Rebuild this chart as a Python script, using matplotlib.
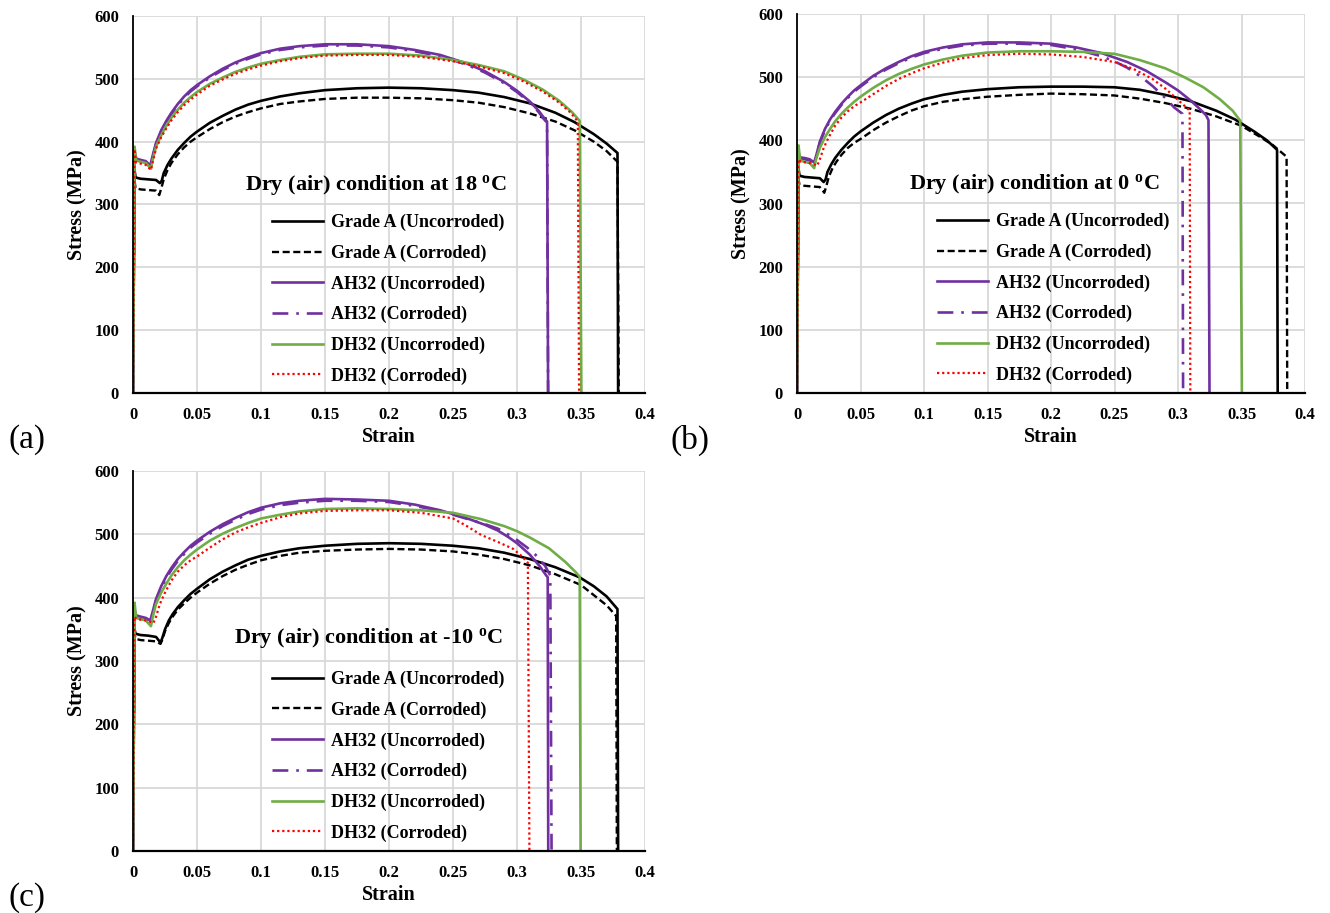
import matplotlib
matplotlib.use('Agg')
import matplotlib.pyplot as plt

plt.rcParams.update({
    'font.family': 'Liberation Serif',
    'font.weight': 'bold',
    'mathtext.fontset': 'custom',
    'mathtext.rm': 'Liberation Serif:bold',
    'mathtext.bf': 'Liberation Serif:bold',
    'mathtext.it': 'Liberation Serif:bold',
})

labels = ["Grade A (Uncorroded)", "Grade A (Corroded)", "AH32 (Uncorroded)",
          "AH32 (Corroded)", "DH32 (Uncorroded)", "DH32 (Corroded)"]
temps = ["18", "0", "-10"]
panel_tags = ["(a)", "(b)", "(c)"]

# ---------------- panel (a): 18 C ----------------
a_gaU_x = [0, 0.0012, 0.002, 0.006, 0.012, 0.018, 0.021, 0.0225, 0.024, 0.027, 0.03, 0.035, 0.04, 0.045,
           0.05, 0.06, 0.07, 0.08, 0.09, 0.1, 0.115, 0.13, 0.15, 0.175, 0.2, 0.225, 0.25, 0.27, 0.29,
           0.31, 0.33, 0.345, 0.36, 0.37, 0.3785, 0.379]
a_gaU_y = [0, 355, 343, 341, 340, 339, 334, 338, 350, 363, 373, 387, 398, 408,
           416, 430, 441, 451, 459, 465, 472, 477, 482, 485, 486, 485, 482, 478, 471,
           461, 446, 431, 412, 397, 382, 0]
a_gaC_x = [0, 0.0012, 0.002, 0.006, 0.012, 0.018, 0.0205, 0.022, 0.024, 0.027, 0.03, 0.035, 0.04, 0.045,
           0.05, 0.06, 0.07, 0.08, 0.09, 0.1, 0.115, 0.13, 0.15, 0.175, 0.2, 0.225, 0.25, 0.27, 0.29,
           0.31, 0.33, 0.345, 0.36, 0.37, 0.3785, 0.3795]
a_gaC_y = [0, 338, 326, 324, 323, 322, 315, 325, 340, 355, 366, 380, 391, 400,
           407, 420, 431, 440, 447, 453, 460, 464, 468, 470, 470, 469, 466, 462, 455,
           445, 432, 418, 400, 385, 368, 0]
a_ahU_x = [0, 0.0012, 0.0025, 0.006, 0.01, 0.0135, 0.015, 0.018, 0.022, 0.026, 0.03, 0.035, 0.04, 0.045,
           0.05, 0.06, 0.07, 0.08, 0.09, 0.1, 0.115, 0.13, 0.15, 0.175, 0.2, 0.22, 0.24, 0.26, 0.275,
           0.29, 0.3, 0.31, 0.317, 0.321, 0.3235, 0.3243]
a_ahU_y = [0, 385, 373, 371, 369, 362, 375, 398, 418, 433, 446, 460, 472, 482,
           490, 504, 516, 526, 534, 541, 548, 552, 555, 555, 552, 546, 538, 525, 512,
           495, 481, 464, 449, 438, 432, 0]
a_ahC_x = [0, 0.0012, 0.0025, 0.006, 0.01, 0.0135, 0.015, 0.018, 0.022, 0.026, 0.03, 0.035, 0.04, 0.045,
           0.05, 0.06, 0.07, 0.08, 0.09, 0.1, 0.115, 0.13, 0.15, 0.175, 0.2, 0.22, 0.24, 0.26, 0.275,
           0.29, 0.3, 0.31, 0.317, 0.321, 0.3235, 0.3243]
a_ahC_y = [0, 381, 371, 369, 367, 361, 373, 396, 416, 431, 444, 458, 470, 480,
           488, 502, 514, 524, 532, 539, 546, 550, 553, 553, 550, 544, 536, 523, 510,
           493, 479, 462, 447, 436, 430, 0]
a_dhU_x = [0, 0.0012, 0.0025, 0.006, 0.01, 0.014, 0.0155, 0.018, 0.022, 0.026, 0.03, 0.035, 0.04, 0.045,
           0.05, 0.06, 0.07, 0.08, 0.09, 0.1, 0.115, 0.13, 0.15, 0.175, 0.2, 0.225, 0.25, 0.27, 0.29,
           0.305, 0.32, 0.333, 0.343, 0.349, 0.3503]
a_dhU_y = [0, 392, 370, 368, 366, 357, 372, 392, 410, 425, 438, 451, 462, 471,
           479, 492, 502, 511, 518, 524, 530, 535, 539, 540, 540, 537, 530, 522, 512,
           499, 483, 465, 447, 433, 0]
a_dhC_x = [0, 0.0012, 0.0025, 0.006, 0.01, 0.014, 0.0155, 0.018, 0.022, 0.026, 0.03, 0.035, 0.04, 0.045,
           0.05, 0.06, 0.07, 0.08, 0.09, 0.1, 0.115, 0.13, 0.15, 0.175, 0.2, 0.225, 0.25, 0.27, 0.29,
           0.305, 0.32, 0.333, 0.342, 0.3475, 0.3485]
a_dhC_y = [0, 388, 367, 365, 363, 355, 369, 389, 407, 421, 434, 447, 458, 467,
           475, 489, 499, 508, 515, 521, 528, 533, 537, 538, 538, 535, 528, 520, 509,
           496, 480, 462, 446, 432, 0]

# ---------------- panel (b): 0 C ----------------
b_gaU_x = [0, 0.0012, 0.002, 0.006, 0.012, 0.018, 0.021, 0.0225, 0.024, 0.027, 0.03, 0.035, 0.04, 0.045,
           0.05, 0.06, 0.07, 0.08, 0.09, 0.1, 0.115, 0.13, 0.15, 0.175, 0.2, 0.225, 0.25, 0.27, 0.29,
           0.31, 0.33, 0.345, 0.36, 0.37, 0.378, 0.3785]
b_gaU_y = [0, 355, 344, 342, 341, 340, 334, 338, 350, 362, 372, 385, 396, 406,
           414, 428, 440, 450, 458, 465, 472, 477, 481, 484, 485, 485, 484, 480, 472,
           462, 447, 433, 414, 400, 385, 0]
b_gaC_x = [0, 0.0012, 0.002, 0.006, 0.012, 0.018, 0.0215, 0.023, 0.025, 0.028, 0.031, 0.035, 0.04, 0.045,
           0.05, 0.06, 0.07, 0.08, 0.09, 0.1, 0.115, 0.13, 0.15, 0.175, 0.2, 0.225, 0.25, 0.27, 0.29,
           0.31, 0.33, 0.35, 0.365, 0.375, 0.3855, 0.386]
b_gaC_y = [0, 338, 329, 328, 327, 326, 317, 327, 342, 356, 366, 377, 388, 396,
           402, 416, 428, 438, 447, 454, 461, 465, 469, 472, 474, 473, 471, 466, 459,
           450, 438, 423, 405, 392, 374, 0]
b_ahU_x = [0, 0.0012, 0.0025, 0.006, 0.01, 0.0135, 0.015, 0.018, 0.022, 0.026, 0.03, 0.035, 0.04, 0.045,
           0.05, 0.06, 0.07, 0.08, 0.09, 0.1, 0.115, 0.13, 0.15, 0.175, 0.2, 0.22, 0.24, 0.26, 0.275,
           0.29, 0.3, 0.31, 0.317, 0.322, 0.324, 0.3248]
b_ahU_y = [0, 380, 373, 372, 370, 365, 375, 398, 418, 433, 445, 458, 469, 479,
           487, 502, 514, 524, 533, 540, 547, 552, 555, 555, 553, 547, 538, 524, 510,
           492, 479, 463, 450, 440, 432, 0]
b_ahC_x = [0, 0.0012, 0.0025, 0.006, 0.01, 0.0135, 0.015, 0.018, 0.022, 0.026, 0.03, 0.035, 0.04, 0.045,
           0.05, 0.06, 0.07, 0.08, 0.09, 0.1, 0.115, 0.13, 0.15, 0.175, 0.2, 0.22, 0.24, 0.25, 0.26,
           0.27, 0.28, 0.29, 0.297, 0.3035, 0.304]
b_ahC_y = [0, 378, 371, 370, 368, 364, 373, 396, 416, 431, 443, 456, 467, 477,
           485, 500, 512, 522, 531, 538, 545, 550, 553, 553, 551, 544, 533, 525, 515,
           502, 486, 467, 452, 442, 0]
b_dhU_x = [0, 0.0012, 0.0025, 0.006, 0.01, 0.0135, 0.015, 0.018, 0.022, 0.026, 0.03, 0.035, 0.04, 0.045,
           0.05, 0.06, 0.07, 0.08, 0.09, 0.1, 0.115, 0.13, 0.15, 0.175, 0.2, 0.225, 0.25, 0.27, 0.29,
           0.305, 0.32, 0.333, 0.343, 0.349, 0.3503]
b_dhU_y = [0, 392, 368, 366, 364, 356, 370, 388, 405, 418, 430, 442, 452, 461,
           469, 483, 495, 505, 513, 520, 528, 534, 539, 541, 541, 540, 537, 527, 514,
           500, 484, 465, 447, 431, 0]
b_dhC_x = [0, 0.001, 0.003, 0.008, 0.012, 0.016, 0.018, 0.021, 0.025, 0.03, 0.035, 0.04, 0.045,
           0.05, 0.06, 0.07, 0.08, 0.09, 0.1, 0.115, 0.13, 0.15, 0.175, 0.2, 0.225, 0.25, 0.265,
           0.28, 0.29, 0.3, 0.306, 0.3092, 0.3097]
b_dhC_y = [0, 370, 366, 365, 363, 360, 370, 388, 405, 423, 436, 446, 454,
           460, 473, 486, 497, 506, 514, 523, 530, 535, 537, 536, 532, 524, 513,
           497, 482, 464, 453, 447, 0]

# ---------------- panel (c): -10 C ----------------
c_gaU_x = [0, 0.0012, 0.002, 0.006, 0.012, 0.018, 0.0215, 0.023, 0.025, 0.028, 0.031, 0.035, 0.04, 0.045,
           0.05, 0.06, 0.07, 0.08, 0.09, 0.1, 0.115, 0.13, 0.15, 0.175, 0.2, 0.225, 0.25, 0.27, 0.29,
           0.31, 0.33, 0.349, 0.36, 0.37, 0.3785, 0.379]
c_gaU_y = [0, 350, 343, 341, 340, 338, 329, 337, 350, 364, 374, 385, 396, 406,
           414, 429, 441, 451, 460, 466, 473, 478, 482, 485, 486, 485, 482, 478, 471,
           461, 448, 432, 418, 402, 382, 0]
c_gaC_x = [0, 0.0012, 0.002, 0.006, 0.012, 0.018, 0.0215, 0.023, 0.025, 0.028, 0.031, 0.035, 0.04, 0.045,
           0.05, 0.06, 0.07, 0.08, 0.09, 0.1, 0.115, 0.13, 0.15, 0.175, 0.2, 0.225, 0.25, 0.27, 0.29,
           0.31, 0.33, 0.35, 0.36, 0.37, 0.3775, 0.378]
c_gaC_y = [0, 342, 335, 333, 332, 331, 327, 334, 347, 360, 370, 381, 391, 400,
           408, 422, 434, 444, 452, 459, 466, 471, 474, 476, 477, 476, 473, 468, 461,
           451, 437, 420, 404, 388, 371, 0]
c_ahU_x = [0, 0.0012, 0.0025, 0.006, 0.01, 0.0135, 0.015, 0.018, 0.022, 0.026, 0.03, 0.035, 0.04, 0.045,
           0.05, 0.06, 0.07, 0.08, 0.09, 0.1, 0.115, 0.13, 0.15, 0.175, 0.2, 0.22, 0.24, 0.26, 0.275,
           0.285, 0.293, 0.3, 0.31, 0.318, 0.3225, 0.324, 0.3244]
c_ahU_y = [0, 380, 372, 370, 368, 364, 375, 398, 418, 434, 447, 461, 472, 482,
           490, 504, 516, 526, 535, 542, 549, 553, 556, 555, 553, 547, 538, 526, 515,
           506, 496, 486, 468, 449, 436, 432, 0]
c_ahC_x = [0, 0.0012, 0.0025, 0.006, 0.01, 0.0135, 0.015, 0.018, 0.022, 0.026, 0.03, 0.035, 0.04, 0.045,
           0.05, 0.06, 0.07, 0.08, 0.09, 0.1, 0.115, 0.13, 0.15, 0.175, 0.2, 0.22, 0.24, 0.26, 0.275,
           0.285, 0.293, 0.3, 0.308, 0.3154, 0.322, 0.326, 0.327]
c_ahC_y = [0, 377, 370, 368, 366, 363, 373, 395, 415, 431, 444, 458, 469, 479,
           487, 501, 513, 523, 532, 539, 546, 550, 553, 553, 551, 545, 537, 525, 516,
           509, 500, 491, 479, 466, 450, 435, 0]
c_dhU_x = [0, 0.0012, 0.0025, 0.006, 0.01, 0.014, 0.0155, 0.018, 0.022, 0.026, 0.03, 0.035, 0.04, 0.045,
           0.05, 0.06, 0.07, 0.08, 0.09, 0.1, 0.115, 0.13, 0.15, 0.175, 0.2, 0.225, 0.25, 0.272, 0.29,
           0.3, 0.31, 0.325, 0.338, 0.346, 0.349, 0.3497]
c_dhU_y = [0, 392, 368, 366, 364, 355, 370, 390, 408, 422, 435, 448, 459, 468,
           476, 490, 501, 510, 518, 525, 531, 536, 540, 541, 540, 538, 534, 524, 513,
           505, 495, 478, 456, 440, 433, 0]
c_dhC_x = [0, 0.001, 0.003, 0.008, 0.012, 0.016, 0.018, 0.021, 0.025, 0.03, 0.035, 0.04, 0.045,
           0.05, 0.06, 0.07, 0.08, 0.09, 0.1, 0.115, 0.13, 0.15, 0.175, 0.2, 0.225, 0.25, 0.26,
           0.272, 0.285, 0.297, 0.304, 0.3085, 0.3097]
c_dhC_y = [0, 370, 366, 365, 363, 360, 370, 390, 408, 427, 441, 451, 459,
           465, 479, 492, 503, 511, 518, 527, 533, 537, 538, 538, 534, 525, 514,
           499, 488, 477, 465, 455, 0]

panels = [
    [(a_gaU_x, a_gaU_y), (a_gaC_x, a_gaC_y), (a_ahU_x, a_ahU_y),
     (a_ahC_x, a_ahC_y), (a_dhU_x, a_dhU_y), (a_dhC_x, a_dhC_y)],
    [(b_gaU_x, b_gaU_y), (b_gaC_x, b_gaC_y), (b_ahU_x, b_ahU_y),
     (b_ahC_x, b_ahC_y), (b_dhU_x, b_dhU_y), (b_dhC_x, b_dhC_y)],
    [(c_gaU_x, c_gaU_y), (c_gaC_x, c_gaC_y), (c_ahU_x, c_ahU_y),
     (c_ahC_x, c_ahC_y), (c_dhU_x, c_dhU_y), (c_dhC_x, c_dhC_y)],
]

styles = [
    dict(color='black', ls='-', lw=1.9),
    dict(color='black', ls=(0, (3, 1.5)), lw=1.7),
    dict(color='#7030a0', ls='-', lw=1.9),
    dict(color='#7030a0', ls=(0, (6, 3, 1, 3)), lw=1.9),
    dict(color='#70ad47', ls='-', lw=1.9),
    dict(color='#ff0000', ls=(0, (1, 1.3)), lw=1.6),
]

W, H = 1330, 913
fig = plt.figure(figsize=(W / 100, H / 100), dpi=100)

# axes boxes in pixels: left, top, right, bottom
boxes = [(133, 16, 645, 393), (797, 14, 1305, 393), (133, 471, 645, 851)]
tag_pos = [(8, 440), (670, 440), (8, 898)]
title_x = [0.19, 0.187, 0.184]
title_y = [331, 331, 336]
legend_anchor = [(0.2715, 0.475), (0.2756, 0.475), (0.2715, 0.474)]

for k, (l, t, r, b) in enumerate(boxes):
    ax = fig.add_axes([l / W, 1 - b / H, (r - l) / W, (b - t) / H])
    for (xs, ys), st, lab in zip(panels[k], styles, labels):
        ax.plot(xs, ys, label=lab, **st)
    ax.set_xlim(0, 0.4)
    ax.set_ylim(0, 600)
    ax.set_xticks([0, 0.05, 0.1, 0.15, 0.2, 0.25, 0.3, 0.35, 0.4])
    ax.set_xticklabels(['0', '0.05', '0.1', '0.15', '0.2', '0.25', '0.3', '0.35', '0.4'])
    ax.set_yticks(range(0, 601, 100))
    ax.grid(True, color='#d9d9d9', lw=1.3)
    ax.set_axisbelow(True)
    for s in ['top', 'right']:
        ax.spines[s].set_visible(False)
    ax.spines['left'].set_linewidth(1.3)
    ax.spines['bottom'].set_linewidth(1.6)
    ax.tick_params(length=0, labelsize=12, pad=10)
    ax.set_xlabel('Strain', fontsize=14.5, fontweight='bold', labelpad=3)
    ax.set_ylabel('Stress (MPa)', fontsize=14.5, fontweight='bold', labelpad=5)
    ax.text(title_x[k], title_y[k], 'Dry (air) condition at ' + temps[k] + r' $^{\mathbf{o}}$C',
            fontsize=16, fontweight='bold', ha='center', va='center')
    ax.legend(loc='upper left', bbox_to_anchor=legend_anchor[k], frameon=False,
              fontsize=13, handlelength=2.8, handletextpad=0.45,
              labelspacing=0.74, borderpad=0, borderaxespad=0)
    fig.text(tag_pos[k][0] / W, 1 - tag_pos[k][1] / H, panel_tags[k],
             fontsize=24, fontweight='normal', ha='left', va='center')

fig.savefig('out.png', dpi=100)
